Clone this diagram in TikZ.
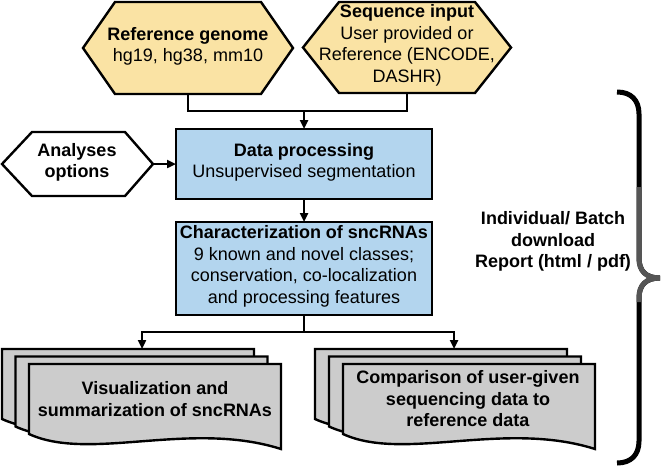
\documentclass[tikz,border=0pt]{standalone}
\usepackage{fontspec}
\setmainfont{Liberation Sans}
\usetikzlibrary{arrows.meta,calc}
\definecolor{hexyellow}{HTML}{FAE3A4}
\definecolor{boxblue}{HTML}{B3D5EE}
\definecolor{docgray}{HTML}{CCCCCC}
\definecolor{bracegray}{HTML}{555555}
\tikzset{
  txt/.style={font=\fontsize{18}{21.5}\selectfont, align=center, inner sep=0pt},
  hexarea/.style={inner sep=0pt, outer sep=0pt},
  hexdraw/.style={draw=black, fill=hexyellow, line width=2.4pt, line join=miter},
  hexwhite/.style={hexdraw, fill=white},
  bluebox/.style={draw=black, fill=boxblue, line width=2.4pt, inner sep=0pt, outer sep=0pt},
  conn/.style={draw=black, line width=2.4pt},
  arr/.style={conn, -{Triangle[length=9pt,width=8pt]}},
  docstyle/.style={draw=black, fill=docgray, line width=2.4pt, line join=miter},
  docsheet/.pic={
    \path[docstyle] (0,0) -- (252,0) -- (252,85) .. controls (161,56) and (61,98) .. (0,70) -- cycle;
  },
}
\begin{document}
\begin{tikzpicture}[x=1pt,y=-1pt]
\useasboundingbox (0,0) rectangle (663,469);

% hexagon areas
\node[hexarea, minimum width=210pt, minimum height=92pt] (ref) at (188,48) {};
\node[hexarea, minimum width=208pt, minimum height=91pt] (seq) at (407,47.5) {};
\node[hexarea, minimum width=151pt, minimum height=64pt] (ana) at (77.5,164) {};

\path[hexdraw] (ref.west) -- ([xshift=32pt]ref.north west) -- ([xshift=-32pt]ref.north east) -- (ref.east) -- ([xshift=-32pt]ref.south east) -- ([xshift=32pt]ref.south west) -- cycle;
\path[hexdraw] (seq.west) -- ([xshift=36pt]seq.north west) -- ([xshift=-36pt]seq.north east) -- (seq.east) -- ([xshift=-36pt]seq.south east) -- ([xshift=36pt]seq.south west) -- cycle;
\path[hexwhite] (ana.west) -- ([xshift=30pt]ana.north west) -- ([xshift=-28pt]ana.north east) -- (ana.east) -- ([xshift=-28pt]ana.south east) -- ([xshift=30pt]ana.south west) -- cycle;

\node[txt] (reft) at (188,46.5) {\textbf{Reference genome}\\hg19, hg38, mm10};
\node[txt] (seqt) at (407,45.5) {\textbf{Sequence input}\\User provided or\\Reference (ENCODE,\\DASHR)};
\node[txt] (anat) at (77,162.5) {\textbf{Analyses}\\\textbf{options}};

% blue boxes
\node[bluebox, minimum width=256pt, minimum height=70pt] (dp) at (304,164) {};
\node[txt] (dpt) at (304,162.5) {\textbf{Data processing}\\Unsupervised segmentation};
\node[bluebox, minimum width=256pt, minimum height=93pt] (char) at (304,268.5) {};
\node[txt] (chart) at (304,266.5) {\textbf{Characterization of sncRNAs}\\9 known and novel classes;\\conservation, co-localization\\and processing features};

% document stacks
\pic at (2,349) {docsheet};
\pic at (15.5,356.5) {docsheet};
\pic at (29,364) {docsheet};
\pic at (315,349) {docsheet};
\pic at (329,356.5) {docsheet};
\pic at (343,364) {docsheet};
\coordinate (visin) at (142,349);
\coordinate (cmpin) at (454,349);
\node[txt] (vis) at (155,399) {\textbf{Visualization and}\\\textbf{summarization of sncRNAs}};
\node[txt] (cmp) at (468,399) {\textbf{Comparison of user-given}\\\textbf{sequencing data to}\\\textbf{reference data}};

% connectors
\coordinate (bus1) at (0,111);
\coordinate (bus2) at (0,332);
\draw[conn] (ref.south) -- (ref.south |- bus1) -| (seq.south);
\draw[arr] (dp.north |- bus1) -- (dp.north);
\draw[arr] (ana.east) -- (dp.west);
\draw[arr] (dp.south) -- (char.north);
\draw[arr] (char.south) -- (char.south |- bus2) -| (visin);
\draw[arr] (char.south |- bus2) -| (cmpin);

% brace and report text
\coordinate (btop) at (617,92);
\coordinate (btip) at (660,278);
\coordinate (bbot) at (617,463);
\draw[line width=5pt] (btop) .. controls (631,92) and (639,100) .. (639,114) -- (639,258) .. controls (639,271) and (646,278) .. (btip) .. controls (646,278) and (639,285) .. (639,298) -- (639,441) .. controls (639,455) and (631,463) .. (bbot);
\draw[line width=5pt, bracegray] (639,187) -- (639,258) .. controls (639,271) and (646,278) .. (btip) .. controls (646,278) and (639,285) .. (639,298) -- (639,302);
\node[txt] (rep) at (553,241.5) {\textbf{Individual/ Batch}\\\textbf{download}\\\textbf{Report (html / pdf)}};
\end{tikzpicture}
\end{document}
